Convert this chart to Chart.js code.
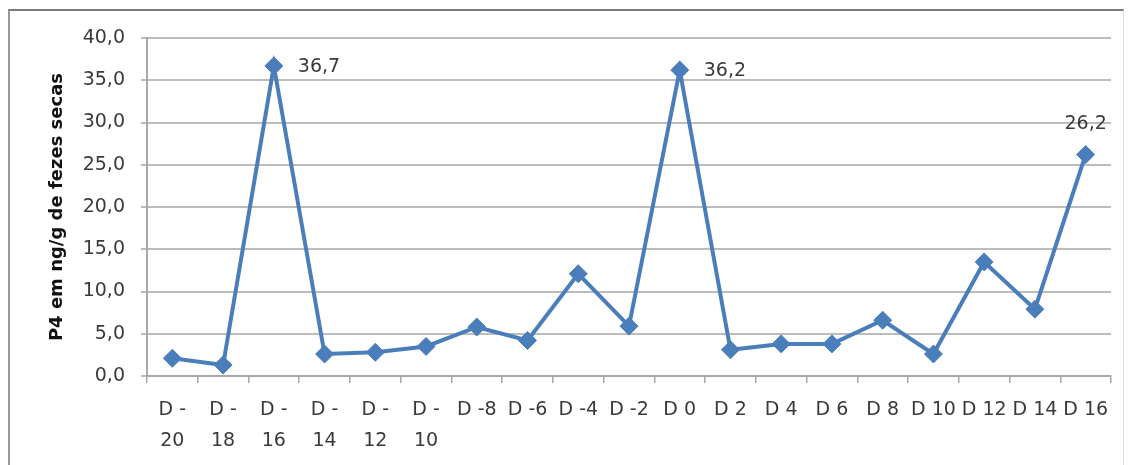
<!DOCTYPE html>
<html lang="pt">
<head>
<meta charset="UTF-8">
<title>P4 em fezes secas</title>
<script src="https://cdn.jsdelivr.net/npm/chart.js@4.4.1/dist/chart.umd.min.js"></script>
<style>
    html, body { margin: 0; padding: 0; background: #ffffff; }
    #wrap { position: relative; width: 1133px; height: 465px; overflow: hidden; }
    #frame {
        position: absolute; left: 8px; top: 9px; width: 1116px; height: 480px;
        border-top: 2px solid #7a7a7a; border-left: 2px solid #9a9a9a; border-right: 1px solid #dcdcdc;
        box-sizing: border-box; pointer-events: none;
    }
    #chartBox { position: absolute; left: 0; top: 0; width: 1133px; height: 465px; }
</style>
</head>
<body>
<div id="wrap">
    <div id="chartBox"><canvas id="p4chart"></canvas></div>
    <div id="frame"></div>
</div>
<script>
    // dias de coleta
    var categories = [
        ['D -', '20'], ['D -', '18'], ['D -', '16'], ['D -', '14'], ['D -', '12'], ['D -', '10'],
        'D -8', 'D -6', 'D -4', 'D -2', 'D 0', 'D 2', 'D 4', 'D 6', 'D 8', 'D 10', 'D 12', 'D 14', 'D 16'
    ];
    // P4 (ng/g de fezes secas)
    var p4Values = [2.1, 1.3, 36.7, 2.6, 2.8, 3.5, 5.8, 4.2, 12.1, 5.9, 36.2, 3.1, 3.8, 3.8, 6.6, 2.6, 13.5, 7.9, 26.2];
    var yTicks = [0, 5, 10, 15, 20, 25, 30, 35, 40];
    var peakIndex = [2, 10, 18];

    var textColor = '#3a3a3a';
    var lineColor = '#4a7ebb';
    var fontFam = "'DejaVu Sans', sans-serif";

    function fmt(v){
        return v.toFixed(1).replace('.', ',');
    }

    // rotulos dos picos
    var peakLabels = {
        id: 'peakLabels',
        afterDatasetsDraw(chart){
            const ctx = chart.ctx;
            const meta = chart.getDatasetMeta(0);
            const last = p4Values.length - 1;
            ctx.save();
            ctx.font = '19px ' + fontFam;
            ctx.fillStyle = textColor;
            peakIndex.forEach(function(i){
                const pt = meta.data[i];
                if(i === last){
                    ctx.textAlign = 'center';
                    ctx.textBaseline = 'middle';
                    ctx.fillText(fmt(p4Values[i]), pt.x, pt.y - 31);
                }else{
                    ctx.textAlign = 'left';
                    ctx.textBaseline = 'middle';
                    ctx.fillText(fmt(p4Values[i]), pt.x + 24, pt.y + 1);
                }
            });
            ctx.restore();
        }
    };

    const ctx = document.getElementById('p4chart').getContext('2d');
    const chart = new Chart(ctx, {
        type: 'line',
        data: {
            labels: categories,
            datasets: [{
                data: p4Values,
                borderColor: lineColor,
                backgroundColor: lineColor,
                borderWidth: 4,
                pointStyle: 'rectRot',
                pointRadius: 9,
                pointHoverRadius: 9,
                pointBackgroundColor: lineColor,
                pointBorderColor: lineColor,
                pointBorderWidth: 1,
                tension: 0
            }]
        },
        options: {
            responsive: true,
            maintainAspectRatio: false,
            animation: false,
            layout: { padding: { top: 38, right: 22, left: 0, bottom: 0 } },
            plugins: {
                legend: { display: false },
                tooltip: { enabled: false }
            },
            scales: {
                x: {
                    type: 'category',
                    offset: true,
                    grid: {
                        offset: true,
                        drawOnChartArea: false,
                        drawTicks: true,
                        tickLength: 7,
                        color: '#a8a8a8',
                        lineWidth: 1.5
                    },
                    border: { display: true, color: '#a8a8a8', width: 2 },
                    ticks: {
                        color: textColor,
                        font: { family: fontFam, size: 19, lineHeight: 1.6 },
                        padding: 12,
                        maxRotation: 0,
                        minRotation: 0,
                        autoSkip: false
                    },
                    afterFit(scale){ scale.height = 89; }
                },
                y: {
                    min: 0,
                    max: 40,
                    afterBuildTicks(scale){
                        scale.ticks = yTicks.map(function(v){ return { value: v }; });
                    },
                    grid: {
                        color: '#bcbcbc',
                        lineWidth: 2,
                        drawTicks: true,
                        tickLength: 6
                    },
                    border: { display: true, color: '#a8a8a8', width: 2 },
                    ticks: {
                        color: textColor,
                        font: { family: fontFam, size: 19 },
                        padding: 16,
                        callback: function(v){ return fmt(v); }
                    },
                    title: {
                        display: true,
                        text: 'P4 em ng/g de fezes secas',
                        color: '#111111',
                        font: { family: fontFam, size: 18, weight: 'bold' },
                        padding: { top: 47, bottom: 0 }
                    },
                    afterFit(scale){ scale.width = 147; }
                }
            }
        },
        plugins: [peakLabels]
    });
</script>
</body>
</html>
